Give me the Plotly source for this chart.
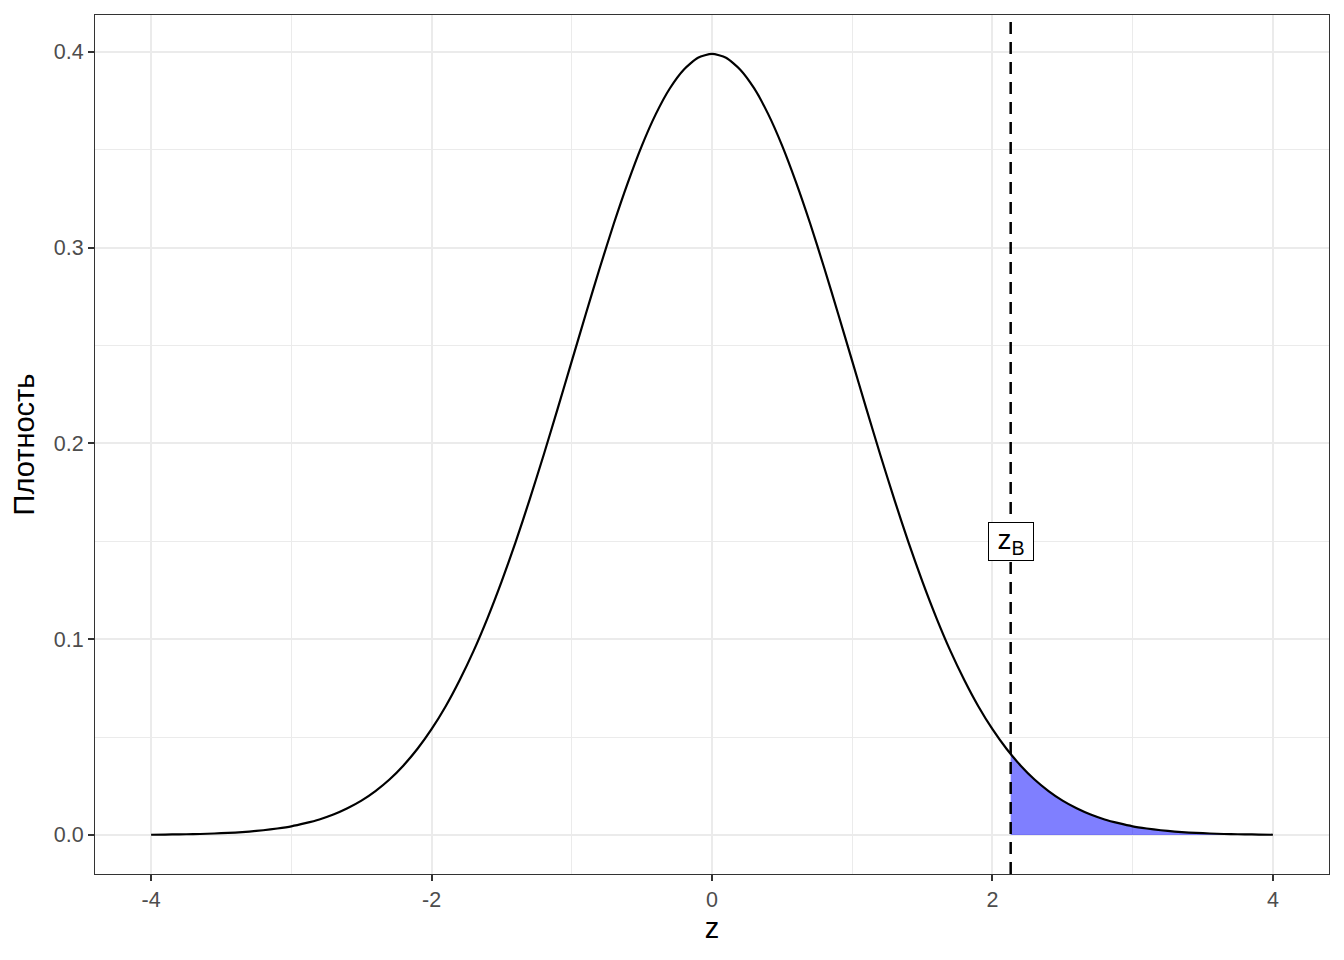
import plotly.graph_objects as go

# z grid and standard normal density values
z = [-4.0, -3.9, -3.8, -3.7, -3.6, -3.5, -3.4, -3.3, -3.2, -3.1,
     -3.0, -2.9, -2.8, -2.7, -2.6, -2.5, -2.4, -2.3, -2.2, -2.1,
     -2.0, -1.9, -1.8, -1.7, -1.6, -1.5, -1.4, -1.3, -1.2, -1.1,
     -1.0, -0.9, -0.8, -0.7, -0.6, -0.5, -0.4, -0.3, -0.2, -0.1,
     0.0, 0.1, 0.2, 0.3, 0.4, 0.5, 0.6, 0.7, 0.8, 0.9,
     1.0, 1.1, 1.2, 1.3, 1.4, 1.5, 1.6, 1.7, 1.8, 1.9,
     2.0, 2.1, 2.2, 2.3, 2.4, 2.5, 2.6, 2.7, 2.8, 2.9,
     3.0, 3.1, 3.2, 3.3, 3.4, 3.5, 3.6, 3.7, 3.8, 3.9, 4.0]
density = [0.0001, 0.0002, 0.0003, 0.0004, 0.0006, 0.0009, 0.0012, 0.0017, 0.0024, 0.0033,
           0.0044, 0.0060, 0.0079, 0.0104, 0.0136, 0.0175, 0.0224, 0.0283, 0.0355, 0.0440,
           0.0540, 0.0656, 0.0790, 0.0940, 0.1109, 0.1295, 0.1497, 0.1714, 0.1942, 0.2179,
           0.2420, 0.2661, 0.2897, 0.3123, 0.3332, 0.3521, 0.3683, 0.3814, 0.3910, 0.3970,
           0.3989, 0.3970, 0.3910, 0.3814, 0.3683, 0.3521, 0.3332, 0.3123, 0.2897, 0.2661,
           0.2420, 0.2179, 0.1942, 0.1714, 0.1497, 0.1295, 0.1109, 0.0940, 0.0790, 0.0656,
           0.0540, 0.0440, 0.0355, 0.0283, 0.0224, 0.0175, 0.0136, 0.0104, 0.0079, 0.0060,
           0.0044, 0.0033, 0.0024, 0.0017, 0.0012, 0.0009, 0.0006, 0.0004, 0.0003, 0.0002, 0.0001]

z_crit = 2.13
density_at_crit = 0.0413
label_y = 0.15
label_text = "z<sub>В</sub>"

x_ticks = [-4, -2, 0, 2, 4]
x_tick_text = ["-4", "-2", "0", "2", "4"]
y_ticks = [0.0, 0.1, 0.2, 0.3, 0.4]
y_tick_text = ["0.0", "0.1", "0.2", "0.3", "0.4"]

# shaded tail region
tail_x = [z_crit] + [v for v in z if v > z_crit]
tail_y = [density_at_crit] + [d for v, d in zip(z, density) if v > z_crit]

fig = go.Figure()
fig.add_trace(go.Scatter(x=tail_x, y=tail_y, fill="tozeroy", mode="lines",
                         line=dict(width=0, color="rgba(0,0,255,0)", shape="spline", smoothing=0.6),
                         fillcolor="rgba(0,0,255,0.5)", hoverinfo="skip", showlegend=False))
fig.add_trace(go.Scatter(x=z, y=density, mode="lines",
                         line=dict(color="black", width=2.2, shape="spline", smoothing=0.6),
                         showlegend=False))
fig.add_vline(x=z_crit, line=dict(color="black", width=2.5, dash="12px,8px"))
fig.add_annotation(x=z_crit, y=label_y, text=label_text, showarrow=False,
                   font=dict(size=28, color="black", family="Liberation Sans"),
                   width=40, height=33, align="center", valign="middle",
                   bgcolor="white", bordercolor="black", borderwidth=1, borderpad=2)

axis_common = dict(showline=True, linecolor="#333333", linewidth=1.2, mirror=True,
                   ticks="outside", ticklen=6, tickwidth=1.8, tickcolor="#333333",
                   tickfont=dict(size=21.5, color="#4D4D4D", family="Liberation Sans"),
                   showgrid=True, gridcolor="#EBEBEB", gridwidth=2.2, zeroline=False)

fig.update_layout(
    width=1344, height=960,
    margin=dict(l=87, r=23, t=7, b=94),
    plot_bgcolor="white", paper_bgcolor="white",
    font=dict(family="Liberation Sans"),
    xaxis=dict(range=[-4.4, 4.4], tickvals=x_ticks, ticktext=x_tick_text,
               title=dict(text="z", font=dict(size=29, color="black"), standoff=6),
               minor=dict(dtick=1, tick0=-3, showgrid=True, gridcolor="#EBEBEB", gridwidth=1.1, ticks=""),
               **axis_common),
    yaxis=dict(range=[-0.01995, 0.4188], tickvals=y_ticks, ticktext=y_tick_text,
               title=dict(text="Плотность", font=dict(size=29, color="black"), standoff=10),
               minor=dict(dtick=0.05, tick0=0.05, showgrid=True, gridcolor="#EBEBEB", gridwidth=1.1, ticks=""),
               **axis_common),
)

fig.write_html("out.html")
